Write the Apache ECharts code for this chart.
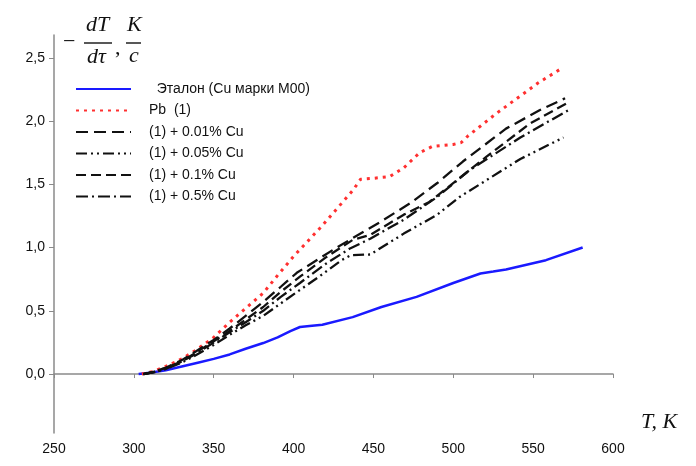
<!DOCTYPE html>
<html><head><meta charset="utf-8">
<script src="https://cdn.jsdelivr.net/npm/echarts@6/dist/echarts.min.js"></script>
<style>html,body{margin:0;padding:0;background:#fff}#c{width:696px;height:466px}</style>
</head><body><div id="c"></div>
<script>
// Data: [T (K), -dT/dτ (K/c)]
const legendNames = ['  Эталон (Cu марки M00)', 'Pb  (1)', '(1) + 0.01% Cu', '(1) + 0.05% Cu', '(1) + 0.1% Cu', '(1) + 0.5% Cu'];
const xTicks = [250, 300, 350, 400, 450, 500, 550, 600];
const yTicks = [0, 0.5, 1.0, 1.5, 2.0, 2.5];
const etalon = [[303,0],[310,0.01],[320,0.03],[330,0.06],[340,0.09],[350,0.12],[360,0.155],[370,0.2],[381,0.245],[390,0.29],[398,0.34],[404,0.372],[410,0.38],[418,0.39],[437,0.45],[455,0.53],[477,0.61],[500,0.72],[517,0.795],[525,0.81],[533,0.826],[558,0.9],[581,1.0]];
const pb = [[305,0],[312,0.02],[320,0.06],[330,0.12],[339,0.19],[350,0.29],[360,0.41],[370,0.52],[381,0.64],[390,0.78],[400,0.93],[417,1.16],[437,1.45],[442,1.54],[448,1.545],[460,1.56],[469,1.63],[479,1.75],[487,1.8],[500,1.815],[505,1.83],[509,1.88],[527,2.06],[540,2.18],[553,2.3],[567,2.41]];
const cu001 = [[306,0],[313,0.02],[320,0.05],[330,0.11],[339,0.18],[350,0.27],[360,0.36],[370,0.46],[381,0.57],[392,0.69],[402,0.8],[427,1.0],[454,1.2],[473,1.35],[490,1.51],[506,1.68],[533,1.94],[554,2.085],[570,2.18]];
const cu005 = [[306,0],[313,0.015],[320,0.04],[330,0.09],[339,0.15],[350,0.23],[360,0.31],[370,0.385],[381,0.46],[400,0.63],[416,0.77],[430,0.9],[436,0.94],[448,0.945],[469,1.11],[490,1.26],[504,1.4],[542,1.7],[569,1.87]];
const cu01 = [[306,0],[313,0.02],[320,0.05],[330,0.1],[339,0.17],[350,0.26],[360,0.34],[370,0.43],[381,0.53],[392,0.65],[404,0.77],[420,0.92],[437,1.06],[448,1.1],[469,1.26],[485,1.36],[492,1.43],[521,1.72],[548,1.98],[571,2.14]];
const cu05 = [[306,0],[313,0.015],[320,0.04],[330,0.1],[339,0.16],[350,0.25],[360,0.33],[370,0.41],[381,0.5],[392,0.61],[404,0.72],[420,0.87],[435,0.99],[448,1.07],[469,1.22],[490,1.4],[510,1.61],[542,1.87],[572,2.085]];

const chart = echarts.init(document.getElementById('c'), null, {renderer: 'canvas'});
const serif = '"Liberation Serif","DejaVu Serif",serif';
const sans = '"Liberation Sans",Arial,sans-serif';
function mk(name, data, color, width, type) {
  return {name, type: 'line', data, symbol: 'none', smooth: false,
    lineStyle: {color, width, type}, itemStyle: {color}, z: 3};
}
chart.setOption({
  animation: false,
  backgroundColor: '#fff',
  grid: {left: 54, right: 83, top: 35, bottom: 33},
  legend: {
    orient: 'vertical', left: 70, top: 77, itemWidth: 55, itemHeight: 14, itemGap: 7.5,
    itemStyle: {opacity: 0},
    textStyle: {fontFamily: sans, fontSize: 14, color: '#111', padding: [0, 0, 0, 13]},
    data: legendNames
  },
  xAxis: {
    type: 'value', min: 250, max: 600, interval: 50,
    axisLine: {show: true, lineStyle: {color: '#8a8a8a', width: 1.5}},
    axisTick: {show: true, length: 4, lineStyle: {color: '#8a8a8a'}},
    axisLabel: {fontFamily: sans, fontSize: 14, color: '#111', margin: 9,
      customValues: xTicks},
    splitLine: {show: false}
  },
  yAxis: {
    type: 'value', min: -0.466, max: 2.68,
    axisLine: {show: true, lineStyle: {color: '#8a8a8a', width: 1.5}},
    axisTick: {show: true, length: 5, lineStyle: {color: '#8a8a8a'}, customValues: yTicks},
    axisLabel: {fontFamily: sans, fontSize: 14, color: '#111', margin: 9,
      customValues: yTicks,
      formatter: v => v.toFixed(1).replace('.', ',')},
    splitLine: {show: false}
  },
  graphic: [
    {type: 'text', left: 63, top: 31, style: {text: '−', font: '22px ' + serif, fill: '#111'}},
    {type: 'text', left: 86, top: 14, style: {text: 'dT', font: 'italic 22px ' + serif, fill: '#111'}},
    {type: 'line', shape: {x1: 84, y1: 43, x2: 112, y2: 43}, style: {stroke: '#111', lineWidth: 1.4}},
    {type: 'text', left: 87, top: 46, style: {text: 'dτ', font: 'italic 22px ' + serif, fill: '#111'}},
    {type: 'text', left: 115, top: 37, style: {text: ',', font: '22px ' + serif, fill: '#111'}},
    {type: 'text', left: 127, top: 14, style: {text: 'K', font: 'italic 22px ' + serif, fill: '#111'}},
    {type: 'line', shape: {x1: 126, y1: 43, x2: 141, y2: 43}, style: {stroke: '#111', lineWidth: 1.4}},
    {type: 'text', left: 129, top: 45, style: {text: 'c', font: 'italic 22px ' + serif, fill: '#111'}},
    {type: 'text', left: 641, top: 411, style: {text: 'T, K', font: 'italic 22px ' + serif, fill: '#111'}}
  ],
  series: [
    mk(legendNames[0], etalon, '#1a1aff', 2.5, 'solid'),
    mk(legendNames[1], pb, '#ff3030', 3, [3, 5]),
    mk(legendNames[2], cu001, '#111', 2.3, [12, 6]),
    mk(legendNames[3], cu005, '#111', 2.3, [11, 4, 2, 4, 2, 4]),
    mk(legendNames[4], cu01, '#111', 2.3, [10, 5]),
    mk(legendNames[5], cu05, '#111', 2.3, [12, 4, 2, 4])
  ]
});
</script></body></html>
